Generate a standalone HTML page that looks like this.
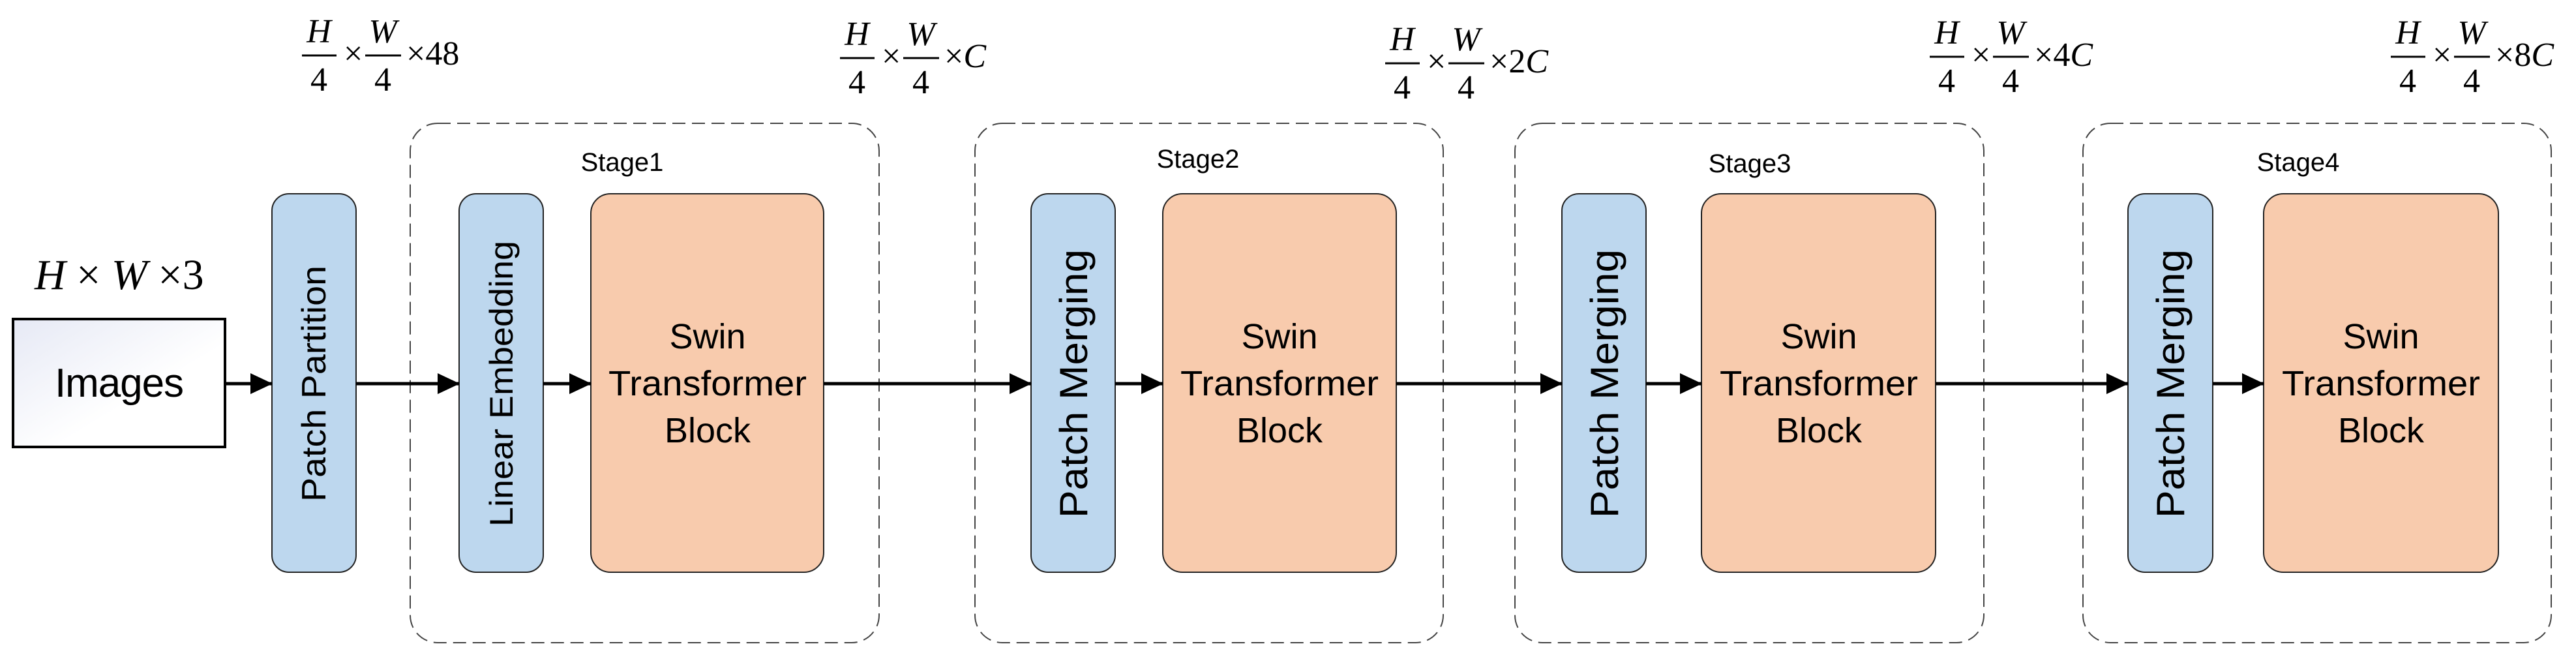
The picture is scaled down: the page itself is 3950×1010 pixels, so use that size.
<!DOCTYPE html>
<html><head><meta charset="utf-8"><style>
html,body{margin:0;padding:0;background:#fff;}
svg{display:block;}
.s{font-family:"Liberation Sans",sans-serif;}
.m{font-family:"Liberation Serif",serif;}
</style></head><body>
<svg width="3950" height="1010" viewBox="0 0 3950 1010" xmlns="http://www.w3.org/2000/svg">
<defs>
<linearGradient id="g" x1="0" y1="0" x2="1" y2="1">
<stop offset="0" stop-color="#e6e9f5"/><stop offset="0.6" stop-color="#ffffff"/></linearGradient>
<marker id="a" markerWidth="34" markerHeight="32" refX="33" refY="16" orient="auto" markerUnits="userSpaceOnUse">
<path d="M0,0 L34,16 L0,32 Z" fill="#000"/></marker>
</defs>

<g fill="none" stroke="#444" stroke-width="2" stroke-dasharray="20,10">
<rect x="629" y="189" width="719" height="796" rx="42"/>
<rect x="1495" y="189" width="718" height="796" rx="42"/>
<rect x="2323" y="189" width="719" height="796" rx="42"/>
<rect x="3194" y="189" width="718" height="796" rx="42"/>
</g>
<g class="s" font-size="40" text-anchor="middle" fill="#000">
<text x="954" y="262">Stage1</text>
<text x="1837" y="257">Stage2</text>
<text x="2683" y="264">Stage3</text>
<text x="3524" y="262">Stage4</text>
</g>

<rect x="20" y="489" width="325" height="196" fill="url(#g)" stroke="#000" stroke-width="4"/>
<text class="s" x="183" y="608" font-size="62" text-anchor="middle" textLength="198">Images</text>
<text class="m" x="53" y="443" font-size="66"><tspan font-style="italic">H</tspan> × <tspan font-style="italic">W</tspan> ×3</text>

<g fill="#bdd7ee" stroke="#222" stroke-width="2">
<rect x="417" y="297" width="129" height="580" rx="26"/>
<rect x="704" y="297" width="129" height="580" rx="26"/>
<rect x="1581" y="297" width="129" height="580" rx="26"/>
<rect x="2395" y="297" width="129" height="580" rx="26"/>
<rect x="3263" y="297" width="130" height="580" rx="26"/>
</g>
<g fill="#f8cbad" stroke="#222" stroke-width="2">
<rect x="906" y="297" width="357" height="580" rx="30"/>
<rect x="1783" y="297" width="358" height="580" rx="30"/>
<rect x="2609" y="297" width="359" height="580" rx="30"/>
<rect x="3471" y="297" width="360" height="580" rx="30"/>
</g>

<g class="s" text-anchor="middle" fill="#000">
<text transform="translate(499,588) rotate(-90)" font-size="52" textLength="362" lengthAdjust="spacingAndGlyphs">Patch Partition</text>
<text transform="translate(786,588) rotate(-90)" font-size="50" textLength="438" lengthAdjust="spacingAndGlyphs">Linear Embedding</text>
<text transform="translate(1667,588) rotate(-90)" font-size="60" textLength="412" lengthAdjust="spacingAndGlyphs">Patch Merging</text>
<text transform="translate(2481,588) rotate(-90)" font-size="60" textLength="412" lengthAdjust="spacingAndGlyphs">Patch Merging</text>
<text transform="translate(3349,588) rotate(-90)" font-size="60" textLength="412" lengthAdjust="spacingAndGlyphs">Patch Merging</text>
</g>

<g class="s" font-size="54" text-anchor="middle" fill="#000">
<g transform="translate(1085,0)"><text y="534">Swin</text><text y="606" textLength="304" lengthAdjust="spacingAndGlyphs">Transformer</text><text y="678">Block</text></g>
<g transform="translate(1962,0)"><text y="534">Swin</text><text y="606" textLength="304" lengthAdjust="spacingAndGlyphs">Transformer</text><text y="678">Block</text></g>
<g transform="translate(2789,0)"><text y="534">Swin</text><text y="606" textLength="304" lengthAdjust="spacingAndGlyphs">Transformer</text><text y="678">Block</text></g>
<g transform="translate(3651,0)"><text y="534">Swin</text><text y="606" textLength="304" lengthAdjust="spacingAndGlyphs">Transformer</text><text y="678">Block</text></g>
</g>

<g stroke="#000" stroke-width="5" marker-end="url(#a)">
<line x1="345" y1="588" x2="417" y2="588"/>
<line x1="546" y1="588" x2="704" y2="588"/>
<line x1="833" y1="588" x2="906" y2="588"/>
<line x1="1263" y1="588" x2="1581" y2="588"/>
<line x1="1710" y1="588" x2="1783" y2="588"/>
<line x1="2141" y1="588" x2="2395" y2="588"/>
<line x1="2524" y1="588" x2="2609" y2="588"/>
<line x1="2968" y1="588" x2="3263" y2="588"/>
<line x1="3393" y1="588" x2="3471" y2="588"/>
</g>

<g class="m" font-size="52" fill="#000">
<g transform="translate(463,85)">
<text x="26" y="-20" text-anchor="middle" font-style="italic">H</text><line x1="0" y1="0" x2="53" y2="0" stroke="#000" stroke-width="3"/><text x="26" y="54" text-anchor="middle">4</text>
<text x="64" y="14">×</text>
<text x="124" y="-20" text-anchor="middle" font-style="italic">W</text><line x1="97" y1="0" x2="152" y2="0" stroke="#000" stroke-width="3"/><text x="124" y="54" text-anchor="middle">4</text>
<text x="160" y="14">×48</text></g>
<g transform="translate(1288,89)">
<text x="26" y="-20" text-anchor="middle" font-style="italic">H</text><line x1="0" y1="0" x2="53" y2="0" stroke="#000" stroke-width="3"/><text x="26" y="54" text-anchor="middle">4</text>
<text x="64" y="14">×</text>
<text x="124" y="-20" text-anchor="middle" font-style="italic">W</text><line x1="97" y1="0" x2="152" y2="0" stroke="#000" stroke-width="3"/><text x="124" y="54" text-anchor="middle">4</text>
<text x="160" y="14">×<tspan font-style="italic">C</tspan></text></g>
<g transform="translate(2124,97)">
<text x="26" y="-20" text-anchor="middle" font-style="italic">H</text><line x1="0" y1="0" x2="53" y2="0" stroke="#000" stroke-width="3"/><text x="26" y="54" text-anchor="middle">4</text>
<text x="64" y="14">×</text>
<text x="124" y="-20" text-anchor="middle" font-style="italic">W</text><line x1="97" y1="0" x2="152" y2="0" stroke="#000" stroke-width="3"/><text x="124" y="54" text-anchor="middle">4</text>
<text x="160" y="14">×2<tspan font-style="italic">C</tspan></text></g>
<g transform="translate(2959,87)">
<text x="26" y="-20" text-anchor="middle" font-style="italic">H</text><line x1="0" y1="0" x2="53" y2="0" stroke="#000" stroke-width="3"/><text x="26" y="54" text-anchor="middle">4</text>
<text x="64" y="14">×</text>
<text x="124" y="-20" text-anchor="middle" font-style="italic">W</text><line x1="97" y1="0" x2="152" y2="0" stroke="#000" stroke-width="3"/><text x="124" y="54" text-anchor="middle">4</text>
<text x="160" y="14">×4<tspan font-style="italic">C</tspan></text></g>
<g transform="translate(3666,87)">
<text x="26" y="-20" text-anchor="middle" font-style="italic">H</text><line x1="0" y1="0" x2="53" y2="0" stroke="#000" stroke-width="3"/><text x="26" y="54" text-anchor="middle">4</text>
<text x="64" y="14">×</text>
<text x="124" y="-20" text-anchor="middle" font-style="italic">W</text><line x1="97" y1="0" x2="152" y2="0" stroke="#000" stroke-width="3"/><text x="124" y="54" text-anchor="middle">4</text>
<text x="160" y="14">×8<tspan font-style="italic">C</tspan></text></g>
</g>
</svg>
</body></html>
